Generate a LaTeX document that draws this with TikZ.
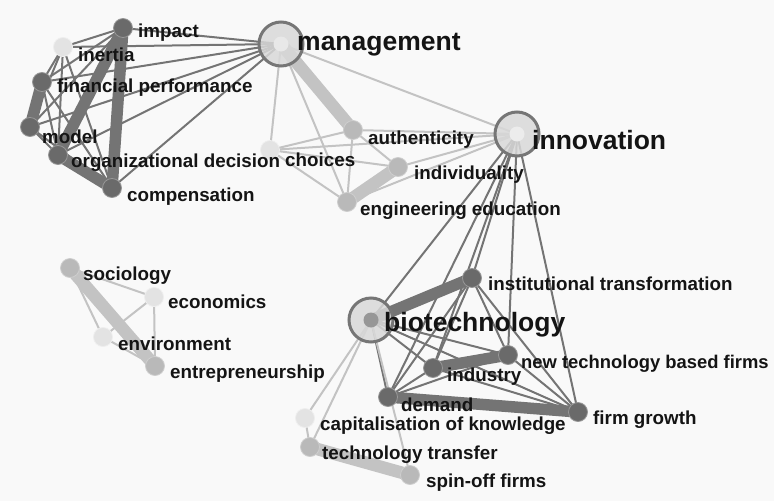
\documentclass[tikz,border=0pt]{standalone}
\usepackage{fontspec}
\setmainfont{Liberation Sans}
\usetikzlibrary{backgrounds}
\definecolor{paper}{HTML}{F9F9F9}
\definecolor{edark}{HTML}{747474}
\definecolor{elight}{HTML}{C3C3C3}
\definecolor{ndark}{HTML}{6A6A6A}
\definecolor{nlight}{HTML}{B9B9B9}
\definecolor{npale}{HTML}{E3E3E3}
\definecolor{hubfill}{HTML}{D9D9D9}
\definecolor{hubring}{HTML}{767676}
\begin{document}
\begin{tikzpicture}[x=1pt, y=-1pt,
  dnode/.style={circle, fill=ndark, draw=ndark!70!white, line width=0.8pt, minimum size=19pt, inner sep=0pt},
  lnode/.style={circle, fill=nlight, draw=nlight!70!white, line width=0.8pt, minimum size=19pt, inner sep=0pt},
  pnode/.style={circle, fill=npale, draw=npale!60!white, line width=0.8pt, minimum size=19pt, inner sep=0pt},
  hub/.style={circle, fill=hubfill, fill opacity=0.85, draw=hubring, line width=3pt, minimum size=44pt, inner sep=0pt},
  core/.style={circle, fill=#1, minimum size=15pt, inner sep=0pt},
  term/.style={anchor=west, inner sep=0pt, text=black!92, font=\bfseries\fontsize{18.8}{20}\selectfont},
  bigterm/.style={anchor=west, inner sep=0pt, text=black!92, font=\bfseries\fontsize{26.5}{28}\selectfont},
  dline/.style={draw=edark, line width=2pt},
  dbar/.style={draw=edark, line width=11.5pt},
  lline/.style={draw=elight, line width=2pt},
  lbar/.style={draw=elight, line width=12.5pt}]
  \useasboundingbox (0,0) rectangle (774,501);
  % hubs
  \node[hub] (mgmt) at (281,44) {};
  \node[hub] (innov) at (517,134) {};
  \node[hub] (biotech) at (371,320) {};
  \node[core=hubfill!60!white] (mgmtc) at (mgmt) {};
  \node[core=hubfill!50!white] (innovc) at (innov) {};
  \node[core=ndark!70!white] (biotechc) at (biotech) {};
  % terms
  \node[dnode] (impact) at (123,28) {};
  \node[pnode] (inertia) at (63,47) {};
  \node[dnode] (finperf) at (42,82) {};
  \node[dnode] (model) at (30,127) {};
  \node[dnode] (orgdec) at (58,155) {};
  \node[dnode] (comp) at (112,188) {};
  \node[pnode] (choices) at (270,150) {};
  \node[lnode] (auth) at (353,130) {};
  \node[lnode] (indiv) at (398,167) {};
  \node[lnode] (engedu) at (347,202) {};
  \node[dnode] (insttrans) at (472,278) {};
  \node[dnode] (newtech) at (508,355) {};
  \node[dnode] (industry) at (433,368) {};
  \node[dnode] (demand) at (388,397) {};
  \node[dnode] (firmgrowth) at (578,412) {};
  \node[pnode] (capknow) at (305,418) {};
  \node[lnode] (techtrans) at (310,447) {};
  \node[lnode] (spinoff) at (410,475) {};
  \node[lnode] (sociology) at (70,268) {};
  \node[pnode] (economics) at (154,297) {};
  \node[pnode] (environment) at (103,337) {};
  \node[lnode] (entrep) at (155,366) {};
  % links
  \begin{scope}[on background layer]
    \fill[paper] (0,0) rectangle (774,501);
    \foreach \a/\b in {impact/inertia, impact/finperf, impact/model, inertia/finperf, inertia/model,
      inertia/orgdec, inertia/comp, finperf/orgdec, finperf/comp, model/orgdec, model/comp,
      mgmt/impact, mgmt/inertia, mgmt/finperf, mgmt/model, mgmt/orgdec, mgmt/comp,
      innov/biotech, innov/insttrans, innov/industry, innov/demand, innov/newtech, innov/firmgrowth,
      biotech/industry, biotech/newtech, biotech/demand, biotech/firmgrowth,
      insttrans/industry, insttrans/demand, insttrans/newtech, insttrans/firmgrowth,
      industry/demand, industry/firmgrowth, demand/newtech, newtech/firmgrowth}
      \draw[dline] (\a.center) -- (\b.center);
    \foreach \a/\b in {mgmt/choices, mgmt/engedu, mgmt/innov, choices/auth, choices/indiv,
      choices/engedu, choices/innov, auth/indiv, auth/engedu, auth/innov, indiv/innov, engedu/innov,
      biotech/capknow, biotech/techtrans, biotech/spinoff, capknow/techtrans,
      sociology/economics, sociology/environment, environment/economics,
      economics/entrep, environment/entrep}
      \draw[lline] (\a.center) -- (\b.center);
    \foreach \a/\b in {impact/orgdec, impact/comp, finperf/model, orgdec/comp,
      biotech/insttrans, industry/newtech, demand/firmgrowth}
      \draw[dbar] (\a.center) -- (\b.center);
    \foreach \a/\b in {mgmt/auth, indiv/engedu, techtrans/spinoff, sociology/entrep}
      \draw[lbar] (\a.center) -- (\b.center);
  \end{scope}
  % labels
  \node[term] (impact-t) at (138,33) {impact};
  \node[term] (inertia-t) at (78,55) {inertia};
  \node[term] (finperf-t) at (57,88) {financial performance};
  \node[term] (model-t) at (42,137) {model};
  \node[term] (orgdec-t) at (71,163) {organizational decision};
  \node[term] (comp-t) at (127,197) {compensation};
  \node[bigterm] (mgmt-t) at (297,45) {management};
  \node[term] (choices-t) at (285,160) {choices};
  \node[term] (auth-t) at (368,140) {authenticity};
  \node[term] (indiv-t) at (414,175) {individuality};
  \node[term] (engedu-t) at (360,211) {engineering education};
  \node[bigterm] (innov-t) at (532,140) {innovation};
  \node[term] (insttrans-t) at (488,284) {institutional transformation};
  \node[bigterm] (biotech-t) at (384,325) {biotechnology};
  \node[term, font=\bfseries\fontsize{18.4}{20}\selectfont] (newtech-t) at (521,364) {new technology based firms};
  \node[term] (industry-t) at (447,377) {industry};
  \node[term] (demand-t) at (401,405) {demand};
  \node[term] (capknow-t) at (320,426) {capitalisation of knowledge};
  \node[term] (firmgrowth-t) at (593,420) {firm growth};
  \node[term] (techtrans-t) at (322,455) {technology transfer};
  \node[term] (spinoff-t) at (426,483) {spin-off firms};
  \node[term] (sociology-t) at (83,276) {sociology};
  \node[term] (economics-t) at (168,302) {economics};
  \node[term] (environment-t) at (118,344) {environment};
  \node[term] (entrep-t) at (170,374) {entrepreneurship};
\end{tikzpicture}
\end{document}
